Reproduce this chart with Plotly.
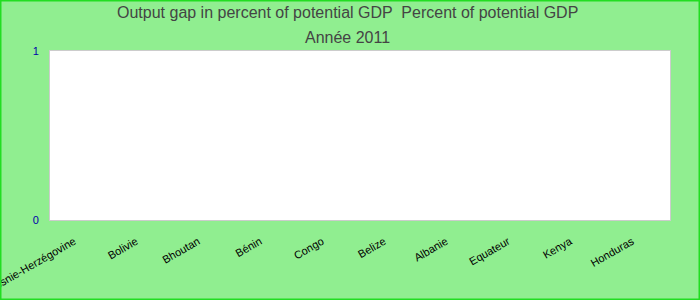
import plotly.graph_objects as go

categories = ["Bosnie-Herzégovine", "Bolivie", "Bhoutan", "Bénin", "Congo",
              "Belize", "Albanie", "Equateur", "Kenya", "Honduras"]
values = [None, None, None, None, None, None, None, None, None, None]
title_line1 = "Output gap in percent of potential GDP  Percent of potential GDP"
title_line2 = "Année 2011"

W, H = 700, 300
L, R, T, B = 50, 30, 51, 80
pw, ph = W - L - R, H - T - B

fig = go.Figure(go.Bar(x=categories, y=values, marker_color="#4572A7"))

fig.update_layout(
    width=W, height=H,
    margin=dict(l=L, r=R, t=T, b=B, pad=0, autoexpand=False),
    paper_bgcolor="#90EE90",
    plot_bgcolor="#FFFFFF",
    showlegend=False,
    font=dict(family="Liberation Sans, Arial, sans-serif"),
)
fig.update_xaxes(
    type="category", tickangle=-30, showgrid=False, zeroline=False,
    tickfont=dict(size=11, color="#000000"), ticks="",
    ticklabelstandoff=10, ticklabelshift=-7, automargin=False,
    showline=True, linecolor="#cccccc", linewidth=1, mirror=True,
)
fig.update_yaxes(
    range=[0, 1], tickvals=[0, 1], showgrid=False, zeroline=False,
    tickfont=dict(size=11, color="#0000AA"), ticks="outside", ticklen=8,
    tickcolor="rgba(0,0,0,0)", automargin=False,
    showline=True, linecolor="#cccccc", linewidth=1, mirror=True,
)
fig.add_annotation(text=title_line1, xref="paper", yref="paper",
                   x=(W / 2 - 3 - L) / pw, y=1 + (T - 13) / ph, showarrow=False,
                   xanchor="center", yanchor="middle",
                   font=dict(size=16, color="#444444"))
fig.add_annotation(text=title_line2, xref="paper", yref="paper",
                   x=(W / 2 - 3 - L) / pw, y=1 + (T - 37) / ph, showarrow=False,
                   xanchor="center", yanchor="middle",
                   font=dict(size=16, color="#444444"))
fig.add_shape(type="rect", xref="paper", yref="paper",
              x0=-L / pw, x1=1 + R / pw, y0=-B / ph, y1=1 + T / ph,
              line=dict(color="#22DD22", width=3), fillcolor="rgba(0,0,0,0)",
              layer="above")
fig.write_html("out.html")
